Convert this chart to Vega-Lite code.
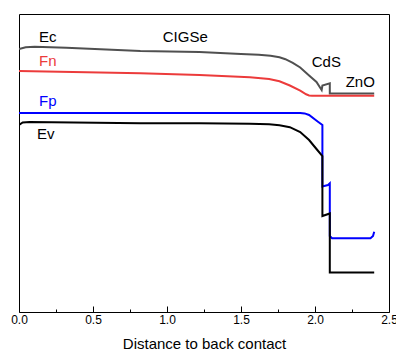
{
  "$schema": "https://vega.github.io/schema/vega-lite/v6.json",
  "width": 370,
  "height": 298,
  "autosize": {"type": "none"},
  "padding": {"left": 19, "top": 14, "right": 7, "bottom": 42},
  "background": "white",
  "config": {
    "view": {"stroke": "#000000", "strokeWidth": 1},
    "font": "Liberation Sans"
  },
  "datasets": {
    "bands": [
      {"band": "Ec", "i": 1, "x": 0, "E": 263},
      {"band": "Ec", "i": 2, "x": 0.045, "E": 264.8},
      {"band": "Ec", "i": 3, "x": 0.106, "E": 265.2},
      {"band": "Ec", "i": 4, "x": 0.32, "E": 264.3},
      {"band": "Ec", "i": 5, "x": 0.82, "E": 261},
      {"band": "Ec", "i": 6, "x": 1.22, "E": 260},
      {"band": "Ec", "i": 7, "x": 1.5, "E": 258},
      {"band": "Ec", "i": 8, "x": 1.62, "E": 257.2},
      {"band": "Ec", "i": 9, "x": 1.7, "E": 256.2},
      {"band": "Ec", "i": 10, "x": 1.76, "E": 254.7},
      {"band": "Ec", "i": 11, "x": 1.8, "E": 252.8},
      {"band": "Ec", "i": 12, "x": 1.85, "E": 249.2},
      {"band": "Ec", "i": 13, "x": 1.9, "E": 244.5},
      {"band": "Ec", "i": 14, "x": 1.96, "E": 236.5},
      {"band": "Ec", "i": 15, "x": 2.01, "E": 230},
      {"band": "Ec", "i": 16, "x": 2.045, "E": 222},
      {"band": "Ec", "i": 17, "x": 2.05, "E": 226.5},
      {"band": "Ec", "i": 18, "x": 2.1, "E": 228.7},
      {"band": "Ec", "i": 19, "x": 2.1, "E": 218.5},
      {"band": "Ec", "i": 20, "x": 2.4, "E": 218.5},
      {"band": "Fn", "i": 1, "x": 0, "E": 241},
      {"band": "Fn", "i": 2, "x": 0.82, "E": 238.8},
      {"band": "Fn", "i": 3, "x": 1.22, "E": 237},
      {"band": "Fn", "i": 4, "x": 1.56, "E": 234.7},
      {"band": "Fn", "i": 5, "x": 1.69, "E": 232.9},
      {"band": "Fn", "i": 6, "x": 1.76, "E": 230.7},
      {"band": "Fn", "i": 7, "x": 1.83, "E": 226.5},
      {"band": "Fn", "i": 8, "x": 1.9, "E": 221.3},
      {"band": "Fn", "i": 9, "x": 1.94, "E": 217.7},
      {"band": "Fn", "i": 10, "x": 1.96, "E": 216.6},
      {"band": "Fn", "i": 11, "x": 1.98, "E": 216.3},
      {"band": "Fn", "i": 12, "x": 2.4, "E": 216.3},
      {"band": "Fp", "i": 1, "x": 0, "E": 199},
      {"band": "Fp", "i": 2, "x": 1.9, "E": 199},
      {"band": "Fp", "i": 3, "x": 1.93, "E": 198.6},
      {"band": "Fp", "i": 4, "x": 1.96, "E": 197},
      {"band": "Fp", "i": 5, "x": 2.02, "E": 190.3},
      {"band": "Fp", "i": 6, "x": 2.05, "E": 187},
      {"band": "Fp", "i": 7, "x": 2.05, "E": 125.5},
      {"band": "Fp", "i": 8, "x": 2.088, "E": 127},
      {"band": "Fp", "i": 9, "x": 2.1, "E": 128.7},
      {"band": "Fp", "i": 10, "x": 2.1, "E": 76},
      {"band": "Fp", "i": 11, "x": 2.115, "E": 73.8},
      {"band": "Fp", "i": 12, "x": 2.375, "E": 73.8},
      {"band": "Fp", "i": 13, "x": 2.392, "E": 76},
      {"band": "Fp", "i": 14, "x": 2.4, "E": 80.3},
      {"band": "Ev", "i": 1, "x": 0, "E": 187},
      {"band": "Ev", "i": 2, "x": 0.025, "E": 189.5},
      {"band": "Ev", "i": 3, "x": 0.072, "E": 190},
      {"band": "Ev", "i": 4, "x": 0.82, "E": 188.7},
      {"band": "Ev", "i": 5, "x": 1.22, "E": 188.7},
      {"band": "Ev", "i": 6, "x": 1.56, "E": 188.3},
      {"band": "Ev", "i": 7, "x": 1.69, "E": 187.7},
      {"band": "Ev", "i": 8, "x": 1.76, "E": 186.8},
      {"band": "Ev", "i": 9, "x": 1.83, "E": 184.8},
      {"band": "Ev", "i": 10, "x": 1.9, "E": 180},
      {"band": "Ev", "i": 11, "x": 1.96, "E": 172},
      {"band": "Ev", "i": 12, "x": 2.01, "E": 163},
      {"band": "Ev", "i": 13, "x": 2.05, "E": 156},
      {"band": "Ev", "i": 14, "x": 2.05, "E": 96},
      {"band": "Ev", "i": 15, "x": 2.1, "E": 98.5},
      {"band": "Ev", "i": 16, "x": 2.1, "E": 39.5},
      {"band": "Ev", "i": 17, "x": 2.4, "E": 39.5}
    ],
    "labels": [
      {"label": "Ec", "x": 0.135, "E": 270.3},
      {"label": "Fn", "x": 0.135, "E": 246},
      {"label": "Fp", "x": 0.135, "E": 206},
      {"label": "Ev", "x": 0.122, "E": 172.7},
      {"label": "CIGSe", "x": 0.971, "E": 270.3},
      {"label": "CdS", "x": 1.978, "E": 245.3},
      {"label": "ZnO", "x": 2.207, "E": 225.3}
    ]
  },
  "resolve": {"axis": {"x": "independent"}, "scale": {"color": "independent"}},
  "layer": [
    {
      "data": {"name": "bands"},
      "mark": {"type": "line", "strokeWidth": 2, "interpolate": "linear", "clip": true},
      "encoding": {
        "x": {
          "field": "x", "type": "quantitative",
          "scale": {"domain": [0, 2.5], "nice": false, "zero": false},
          "axis": {
            "orient": "bottom",
            "title": "Distance to back contact",
            "values": [0, 0.5, 1, 1.5, 2, 2.5],
            "format": ".1f",
            "grid": false,
            "domain": false,
            "tickSize": -6,
            "tickColor": "#000000",
            "tickWidth": 1,
            "labelPadding": 8,
            "labelFontSize": 12,
            "labelColor": "#000000",
            "labelFont": "Liberation Sans",
            "labelFlush": false,
            "labelOverlap": false,
            "titleFontSize": 15,
            "titleFontWeight": "normal",
            "titleColor": "#000000",
            "titleFont": "Liberation Sans",
            "titleBaseline": "alphabetic",
            "titleY": 36
          }
        },
        "y": {
          "field": "E", "type": "quantitative",
          "scale": {"domain": [0, 298], "nice": false, "zero": false},
          "axis": null
        },
        "color": {
          "field": "band", "type": "nominal",
          "scale": {"domain": ["Ec", "Fn", "Fp", "Ev"], "range": ["#505050", "#ec3b3b", "#0000ff", "#000000"]},
          "legend": null
        },
        "order": {"field": "i", "type": "quantitative"}
      }
    },
    {
      "data": {"name": "labels"},
      "mark": {"type": "text", "align": "left", "baseline": "alphabetic", "fontSize": 15, "font": "Liberation Sans"},
      "encoding": {
        "x": {
          "field": "x", "type": "quantitative",
          "scale": {"domain": [0, 2.5], "nice": false, "zero": false},
          "axis": {
            "orient": "bottom",
            "title": null,
            "values": [0.25, 0.75, 1.25, 1.75, 2.25],
            "labels": false,
            "grid": false,
            "domain": false,
            "tickSize": -3,
            "tickColor": "#000000",
            "tickWidth": 1
          }
        },
        "y": {
          "field": "E", "type": "quantitative",
          "scale": {"domain": [0, 298], "nice": false, "zero": false},
          "axis": null
        },
        "text": {"field": "label"},
        "color": {
          "field": "label", "type": "nominal",
          "scale": {"domain": ["Ec", "Fn", "Fp", "Ev", "CIGSe", "CdS", "ZnO"], "range": ["#000000", "#ec3b3b", "#0000ff", "#000000", "#000000", "#000000", "#000000"]},
          "legend": null
        }
      }
    }
  ]
}
